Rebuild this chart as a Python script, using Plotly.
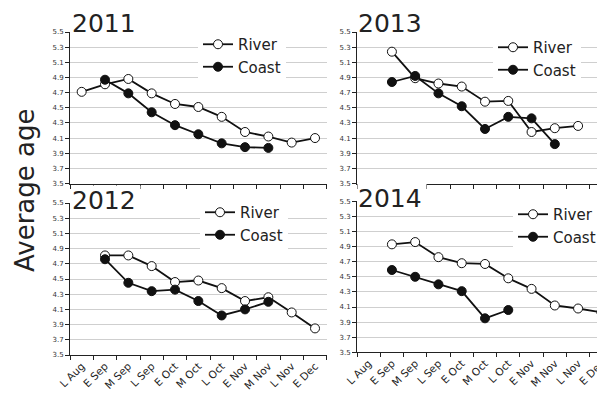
import plotly.graph_objects as go

categories = ["L Aug", "E Sep", "M Sep", "L Sep", "E Oct", "M Oct", "L Oct",
              "E Nov", "M Nov", "L Nov", "E Dec"]
y_ticks = [3.5, 3.7, 3.9, 4.1, 4.3, 4.5, 4.7, 4.9, 5.1, 5.3, 5.5]

river_2011 = [4.71, 4.81, 4.88, 4.69, 4.55, 4.51, 4.38, 4.18, 4.12, 4.04, 4.10]
coast_2011 = [None, 4.87, 4.69, 4.44, 4.27, 4.15, 4.03, 3.98, 3.97, None, None]

river_2013 = [None, 5.24, 4.89, 4.82, 4.78, 4.58, 4.59, 4.18, 4.23, 4.26, None]
coast_2013 = [None, 4.84, 4.92, 4.69, 4.52, 4.22, 4.38, 4.36, 4.02, None, None]

river_2012 = [None, 4.81, 4.81, 4.67, 4.46, 4.48, 4.38, 4.21, 4.26, 4.06, 3.85]
coast_2012 = [None, 4.76, 4.45, 4.34, 4.36, 4.21, 4.02, 4.10, 4.20, None, None]

river_2014 = [None, 4.93, 4.96, 4.76, 4.68, 4.67, 4.48, 4.34, 4.12, 4.08, 4.03]
coast_2014 = [None, 4.59, 4.50, 4.40, 4.31, 3.95, 4.06, None, None, None, None]

years = ["2011", "2013", "2012", "2014"]
river = [river_2011, river_2013, river_2012, river_2014]
coast = [coast_2011, coast_2013, coast_2012, coast_2014]

W, H = 605, 394
FONT = "DejaVu Sans"

# panel geometry in pixels: (left, right, top, bottom)
panels = [
    (62, 318.7, 24, 175.5),
    (349, 605, 24, 175.5),
    (62, 318.7, 195, 347),
    (349, 605, 193.3, 344.3),
]
# legend text-start x and River row centre y (pixels)
legend_pos = [(238, 45), (533, 48), (240, 213), (553, 215)]
# year title box left x and centre y (pixels)
title_pos = [(63, 15), (349, 15), (63, 192), (349, 190)]

fig = go.Figure()
layout = {}
annotations = []

for i in range(4):
    ax = "" if i == 0 else str(i + 1)
    xa, ya = "x" + ax, "y" + ax
    lg = "legend" if i == 0 else "legend" + str(i + 1)
    fig.add_trace(go.Scatter(
        x=categories, y=river[i], xaxis=xa, yaxis=ya, name="River",
        mode="lines+markers", legend=lg,
        line=dict(color="#111111", width=1.8),
        marker=dict(size=9, color="white", line=dict(color="#111111", width=1)),
    ))
    fig.add_trace(go.Scatter(
        x=categories, y=coast[i], xaxis=xa, yaxis=ya, name="Coast",
        mode="lines+markers", legend=lg,
        line=dict(color="#111111", width=1.8),
        marker=dict(size=9, color="#111111", line=dict(color="#111111", width=1)),
    ))
    l, r, t, b = panels[i]
    bottom_row = i >= 2
    layout["xaxis" + ax] = dict(
        domain=[l / W, min(r / W, 1.0)], anchor=ya,
        type="category", categoryorder="array", categoryarray=categories,
        range=[-0.5, len(categories) - 0.5],
        tickson="boundaries", ticks="outside", ticklen=4, tickwidth=1,
        tickcolor="#222", showline=True, linecolor="#222", linewidth=1,
        showgrid=False, showticklabels=bottom_row, tickangle=-45,
        tickfont=dict(family=FONT, size=10.5, color="#222"),
    )
    layout["yaxis" + ax] = dict(
        domain=[1 - b / H, 1 - t / H], anchor=xa,
        range=[3.5, 5.5], tickvals=y_ticks, tickformat=".1f",
        ticks="outside", ticklen=4, tickwidth=1, tickcolor="#222",
        showline=True, linecolor="#222", linewidth=1,
        showgrid=True, gridcolor="#cfcfcf", gridwidth=1, zeroline=False,
        tickfont=dict(family=FONT, size=7, color="#333"),
    )
    tx, ty = legend_pos[i]
    layout[lg] = dict(
        x=(tx - 48) / W, y=1 - (ty - 25) / H, xanchor="left", yanchor="top",
        bgcolor="white", borderwidth=0, itemwidth=30, tracegroupgap=0,
        font=dict(family=FONT, size=15, color="#222"),
    )
    px, py = title_pos[i]
    annotations.append(dict(
        text=years[i], xref="paper", yref="paper", x=px / W, y=1 - py / H,
        xanchor="left", yanchor="middle", showarrow=False,
        width=68, align="left",
        bgcolor="white", borderpad=0,
        font=dict(family=FONT, size=25, color="#222"),
    ))

annotations.append(dict(
    text="Average age", xref="paper", yref="paper", x=17 / W, y=1 - 183 / H,
    xanchor="center", yanchor="middle", showarrow=False, textangle=-90,
    font=dict(family=FONT, size=26, color="#222"),
))

fig.update_layout(
    width=W, height=H,
    margin=dict(l=0, r=0, t=0, b=0, autoexpand=False),
    paper_bgcolor="white", plot_bgcolor="white",
    annotations=annotations, **layout,
)

fig.write_html("out.html")
